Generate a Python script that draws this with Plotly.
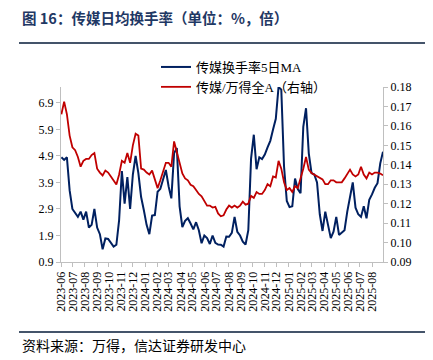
import pandas as pd
import plotly.graph_objects as go

# weekly observation dates (Fridays)
dates = pd.date_range("2023-06-02", "2025-08-29", freq="W-FRI")

turnover_5d_ma = [
    4.85, 4.75, 4.85, 3.6, 2.9, 2.75, 2.6, 2.8, 2.5, 2.8,
    2.2, 2.3, 2.9, 2.2, 1.95, 1.38, 1.79, 1.77, 1.63, 1.48,
    1.55, 2.48, 4.33, 3.1, 4.1, 2.9, 4.2, 4.9, 4.25, 3.35,
    2.85, 2.3, 1.95, 2.65, 2.67, 3.55, 3.66, 4.0, 4.37, 3.75,
    3.3, 5.0, 5.2, 3.0, 2.22, 2.45, 2.55, 2.35, 2.13, 2.4,
    2.1, 1.61, 1.9, 1.8, 1.58, 1.9, 1.62, 1.56, 1.55, 1.48,
    1.86, 1.85, 2.0, 2.6, 2.04, 1.9, 1.67, 1.56, 2.1, 4.8,
    5.7, 4.4, 4.85, 4.78, 4.95, 5.22, 5.47, 5.9, 6.3, 7.5,
    7.4, 4.5, 3.2, 2.97, 3.0, 4.05, 3.65, 3.49, 6.0, 6.7,
    5.0, 4.25, 4.2, 3.9, 2.7, 2.07, 2.8, 2.3, 1.8, 2.04,
    2.6, 1.92, 2.0, 2.1, 2.8, 3.4, 3.9, 2.95, 2.7, 2.6,
    3.0, 2.55, 3.25, 3.45, 3.7, 3.87, 4.62, 5.06,
]

media_vs_allA = [
    0.166, 0.1725, 0.166, 0.155, 0.149, 0.1475, 0.144, 0.139, 0.142, 0.143,
    0.143, 0.145, 0.146, 0.138, 0.136, 0.1345, 0.137, 0.136, 0.134, 0.132,
    0.1298, 0.135, 0.142, 0.141, 0.146, 0.141, 0.150, 0.156, 0.155, 0.138,
    0.1375, 0.136, 0.135, 0.137, 0.133, 0.128, 0.132, 0.137, 0.141, 0.141,
    0.139, 0.152, 0.146, 0.140, 0.1355, 0.133, 0.132, 0.1297, 0.129, 0.127,
    0.125, 0.1238, 0.121, 0.119, 0.119, 0.118, 0.1184, 0.115, 0.1135, 0.114,
    0.117, 0.119, 0.118, 0.119, 0.118, 0.119, 0.121, 0.1195, 0.120, 0.124,
    0.123, 0.126, 0.125, 0.125, 0.127, 0.130, 0.129, 0.134, 0.1335, 0.142,
    0.138, 0.131, 0.127, 0.128, 0.126, 0.129, 0.128, 0.1325, 0.138, 0.144,
    0.1375, 0.1358, 0.135, 0.134, 0.133, 0.1325, 0.130, 0.130, 0.132, 0.132,
    0.131, 0.131, 0.131, 0.133, 0.135, 0.1375, 0.135, 0.134, 0.135, 0.139,
    0.135, 0.133, 0.136, 0.135, 0.136, 0.136, 0.1355, 0.1346,
]

series_names = ["传媒换手率5日MA", "传媒/万得全A（右轴）"]
title_text = "图 16：传媒日均换手率（单位：%，倍）"
source_text = "资料来源：万得，信达证券研发中心"

SERIF = "Liberation Serif, Noto Sans CJK SC, serif"
CJK = "Noto Sans CJK SC, sans-serif"
NAVY = "#1f3864"

fig = go.Figure()
fig.add_trace(go.Scatter(
    x=dates, y=turnover_5d_ma, name=series_names[0], mode="lines",
    line=dict(color="#002060", width=2), yaxis="y"))
fig.add_trace(go.Scatter(
    x=dates, y=media_vs_allA, name=series_names[1], mode="lines",
    line=dict(color="#c00000", width=1.8), yaxis="y2"))

axis_line = "#bfbfbf"
fig.update_layout(
    width=433, height=360,
    margin=dict(l=61, r=50, t=87, b=98, pad=0, autoexpand=False),
    paper_bgcolor="white", plot_bgcolor="white",
    showlegend=True,
    legend=dict(x=0.295, y=1.2, xanchor="left", yanchor="top",
                bgcolor="rgba(0,0,0,0)", font=dict(family=SERIF, size=13, color="#000"),
                tracegroupgap=0, itemwidth=30),
    xaxis=dict(
        type="date", range=["2023-06-01", "2025-08-29"], automargin=False,
        tick0="2023-06-01", dtick="M1", tickformat="%Y-%m", tickangle=-90,
        showgrid=False, showline=True, linecolor=axis_line, linewidth=1,
        ticks="outside", ticklen=4, tickcolor=axis_line,
        tickfont=dict(family=SERIF, size=12, color="#000"),
    ),
    yaxis=dict(
        range=[0.9, 7.5], tick0=0.9, dtick=1, tickformat=".1f", automargin=False,
        showgrid=False, showline=True, linecolor=axis_line, linewidth=1,
        ticks="outside", ticklen=4, tickcolor=axis_line, zeroline=False,
        tickfont=dict(family=SERIF, size=12, color="#000"),
    ),
    yaxis2=dict(
        range=[0.09, 0.18], tick0=0.09, dtick=0.01, tickformat=".2f", automargin=False,
        overlaying="y", side="right",
        showgrid=False, showline=True, linecolor=axis_line, linewidth=1,
        ticks="outside", ticklen=4, tickcolor=axis_line, zeroline=False,
        tickfont=dict(family=SERIF, size=12, color="#000"),
    ),
)

fig.add_annotation(text="<b>" + title_text + "</b>", xref="paper", yref="paper",
                   x=-0.127, y=1.395, xanchor="left", yanchor="middle", showarrow=False,
                   font=dict(family=CJK, size=14.5, color=NAVY))
fig.add_annotation(text=source_text, xref="paper", yref="paper",
                   x=-0.127, y=-0.475, xanchor="left", yanchor="middle", showarrow=False,
                   font=dict(family=CJK, size=14, color="#000"))

for yy in (1.2514, -0.40):
    fig.add_shape(type="line", xref="paper", yref="paper",
                  x0=-0.1304, x1=1.1304, y0=yy, y1=yy,
                  line=dict(color="#44546a", width=2))

fig.write_html("out.html", config={"displayModeBar": False},
               post_script="document.body.style.margin='0';document.body.style.overflow='hidden';")
